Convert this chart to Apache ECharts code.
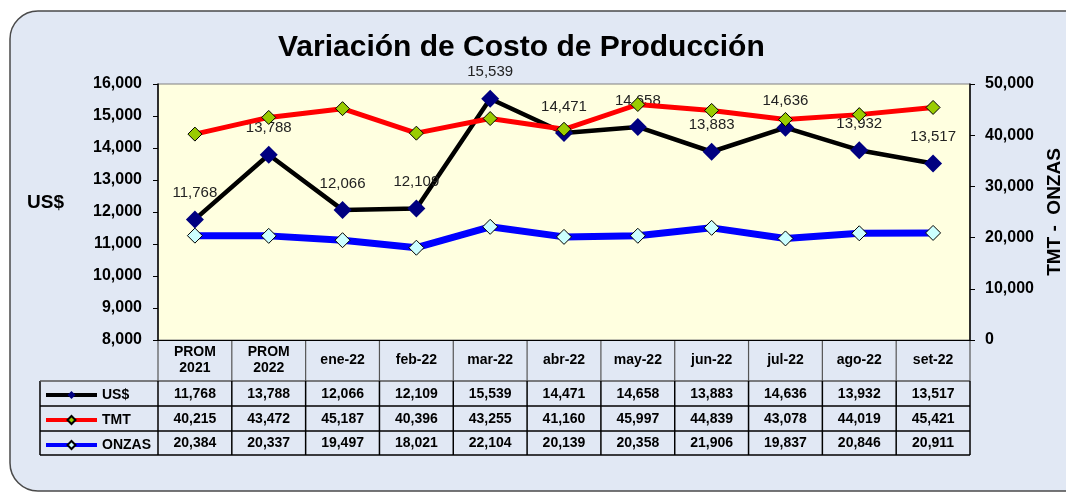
<!DOCTYPE html>
<html>
<head>
<meta charset="utf-8">
<script src="https://cdn.jsdelivr.net/npm/echarts@6/dist/echarts.min.js"></script>
<style>
html, body { margin: 0; padding: 0; background: #fff; }
#chart { width: 1066px; height: 493px; }
</style>
</head>
<body>
<div id="chart"></div>
<script>
// datos
const categories = ['PROM\n2021', 'PROM\n2022', 'ene-22', 'feb-22', 'mar-22', 'abr-22', 'may-22', 'jun-22', 'jul-22', 'ago-22', 'set-22'];
const usd = [11768, 13788, 12066, 12109, 15539, 14471, 14658, 13883, 14636, 13932, 13517];
const tmt = [40215, 43472, 45187, 40396, 43255, 41160, 45997, 44839, 43078, 44019, 45421];
const onzas = [20384, 20337, 19497, 18021, 22104, 20139, 20358, 21906, 19837, 20846, 20911];
const seriesNames = ['US$', 'TMT', 'ONZAS'];

const FONT = 'Liberation Sans, Arial, sans-serif';
const fmt = v => Number(v).toLocaleString('en-US');

// layout
const GL = 158, GR = 970, GT = 84, GB = 340;
const TABLE_LEFT = 40;
const rowLines = [381, 406, 431, 455];

const chart = echarts.init(document.getElementById('chart'));

function rowAxis(values, offset) {
    return {
        type: 'category',
        data: categories,
        gridIndex: 0,
        position: 'bottom',
        offset: offset,
        axisLine: { show: false },
        axisTick: { show: false },
        axisLabel: {
            interval: 0,
            margin: 0,
            verticalAlign: 'middle',
            fontFamily: FONT,
            fontWeight: 'bold',
            fontSize: 14,
            color: '#000',
            formatter: (v, i) => fmt(values[i])
        }
    };
}

// fondo redondeado y lineas de la tabla
const graphics = [
    {
        type: 'rect', z: -10, silent: true,
        shape: { x: 10, y: 11, width: 1090, height: 480, r: 28 },
        style: { fill: '#E1E8F4', stroke: '#4a4a4a', lineWidth: 1.5 }
    },
    {
        type: 'line', silent: true,
        shape: { x1: TABLE_LEFT, y1: rowLines[0], x2: TABLE_LEFT, y2: rowLines[3] },
        style: { stroke: '#000', lineWidth: 1.5 }
    }
];
rowLines.forEach((y, k) => {
    graphics.push({
        type: 'line', silent: true,
        shape: { x1: TABLE_LEFT, y1: y, x2: GR, y2: y },
        style: { stroke: k === 0 ? '#555' : '#000', lineWidth: 1.5 }
    });
});
const step = (GR - GL) / categories.length;
for (let i = 0; i <= categories.length; i++) {
    const x = GL + i * step;
    graphics.push({
        type: 'line', silent: true,
        shape: { x1: x, y1: GB, x2: x, y2: rowLines[0] },
        style: { stroke: '#555', lineWidth: 1.2 }
    });
    graphics.push({
        type: 'line', silent: true,
        shape: { x1: x, y1: rowLines[0], x2: x, y2: rowLines[3] },
        style: { stroke: '#000', lineWidth: 1.5 }
    });
}

const option = {
    animation: false,
    title: {
        text: 'Variación de Costo de Producción',
        left: 273,
        top: 28,
        textStyle: { fontFamily: FONT, fontWeight: 'bold', fontSize: 30, color: '#000' }
    },
    legend: {
        orient: 'vertical',
        left: 44,
        top: 388,
        padding: 0,
        itemWidth: 51,
        itemHeight: 10,
        itemGap: 11,
        data: seriesNames,
        lineStyle: { width: 4 },
        textStyle: { fontFamily: FONT, fontWeight: 'bold', fontSize: 14, color: '#000' }
    },
    graphic: graphics,
    grid: {
        left: GL, right: 1066 - GR, top: GT, bottom: 493 - GB,
        outerBoundsMode: 'none',
        containLabel: false,
        show: true,
        backgroundColor: '#FFFFE0',
        borderColor: '#808080',
        borderWidth: 1
    },
    xAxis: [
        {
            type: 'category',
            data: categories,
            boundaryGap: true,
            axisLine: { lineStyle: { color: '#000', width: 1 } },
            axisTick: { show: false },
            axisLabel: {
                interval: 0,
                margin: 20,
                verticalAlign: 'middle',
                fontFamily: FONT,
                fontWeight: 'bold',
                fontSize: 14,
                lineHeight: 16,
                color: '#000'
            }
        },
        rowAxis(usd, 54),
        rowAxis(tmt, 79),
        rowAxis(onzas, 103.5)
    ],
    yAxis: [
        {
            type: 'value',
            min: 8000, max: 16000, interval: 1000,
            name: 'US$',
            nameLocation: 'middle',
            nameRotate: 0,
            nameGap: 94,
            nameTextStyle: { fontFamily: FONT, fontWeight: 'bold', fontSize: 19, color: '#000', verticalAlign: 'bottom' },
            axisLine: { show: true, lineStyle: { color: '#000', width: 1.5 } },
            axisTick: { show: true, length: 5, lineStyle: { color: '#000' } },
            splitLine: { show: false },
            axisLabel: {
                margin: 16,
                fontFamily: FONT, fontWeight: 'bold', fontSize: 16, color: '#000',
                formatter: v => fmt(v)
            }
        },
        {
            type: 'value',
            min: 0, max: 50000, interval: 10000,
            position: 'right',
            name: 'TMT -  ONZAS',
            nameLocation: 'middle',
            nameRotate: 90,
            nameGap: 72,
            nameTextStyle: { fontFamily: FONT, fontWeight: 'bold', fontSize: 19, color: '#000' },
            axisLine: { show: true, lineStyle: { color: '#000', width: 1.5 } },
            axisTick: { show: true, length: 5, lineStyle: { color: '#000' } },
            splitLine: { show: false },
            axisLabel: {
                margin: 15,
                fontFamily: FONT, fontWeight: 'bold', fontSize: 16, color: '#000',
                formatter: v => fmt(v)
            }
        }
    ],
    series: [
        {
            name: 'ONZAS',
            type: 'line',
            yAxisIndex: 1,
            data: onzas,
            symbol: 'diamond',
            symbolSize: 15,
            lineStyle: { color: '#0000FF', width: 7 },
            itemStyle: { color: '#CCFFFF', borderColor: '#000', borderWidth: 1 },
            z: 2
        },
        {
            name: 'US$',
            type: 'line',
            data: usd,
            symbol: 'diamond',
            symbolSize: 18,
            lineStyle: { color: '#000', width: 4.5 },
            itemStyle: { color: '#000080' },
            label: {
                show: true,
                position: 'top',
                distance: 10,
                fontFamily: FONT,
                fontSize: 15,
                color: '#222',
                formatter: p => fmt(p.value)
            },
            z: 3
        },
        {
            name: 'TMT',
            type: 'line',
            yAxisIndex: 1,
            data: tmt,
            symbol: 'diamond',
            symbolSize: 14,
            lineStyle: { color: '#FF0000', width: 5 },
            itemStyle: { color: '#99CC00', borderColor: '#000', borderWidth: 1 },
            z: 4
        }
    ]
};

chart.setOption(option);
</script>
</body>
</html>
